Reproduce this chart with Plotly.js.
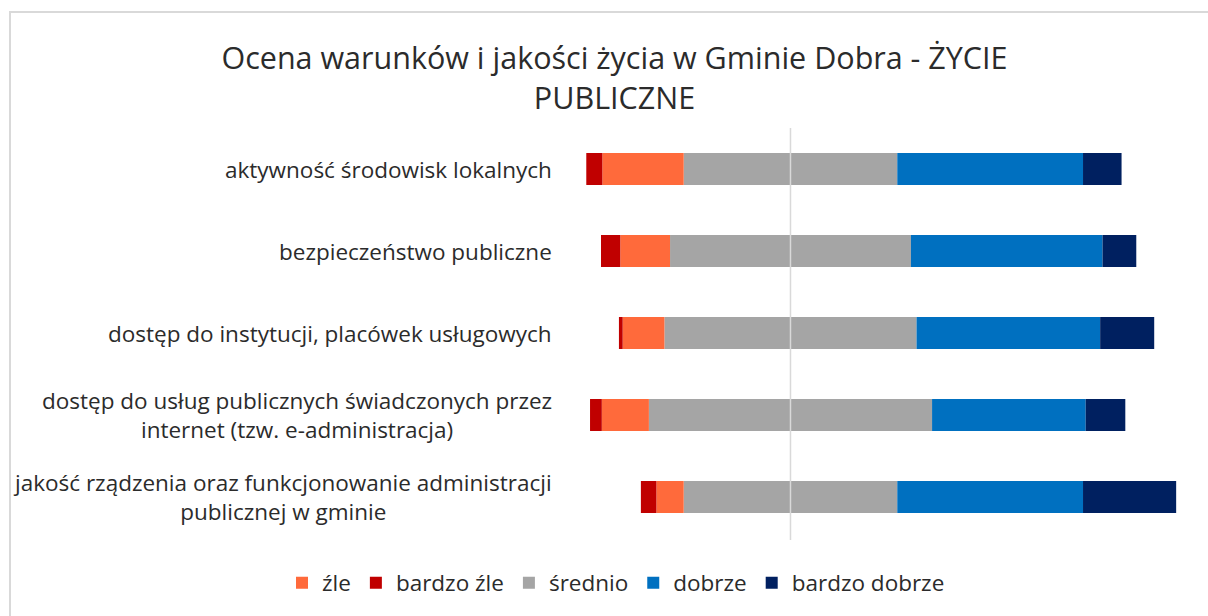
<!DOCTYPE html>
<html>
<head>
<meta charset="utf-8">
<script src="https://cdn.plot.ly/plotly-3.0.1.min.js"></script>
<style>
  html, body { margin: 0; padding: 0; background: #fff; overflow: hidden; }
  #chart { width: 1208px; height: 616px; }
  #frame { position: absolute; left: 9px; top: 11px; width: 1400px; height: 800px;
           border: 2px solid #d9d9d9; pointer-events: none; }
</style>
</head>
<body>
<div id="chart"></div>
<div id="frame"></div>
<script>
const categories = [
  'aktywność środowisk lokalnych',
  'bezpieczeństwo publiczne',
  'dostęp do instytucji, placówek usługowych',
  'dostęp do usług publicznych świadczonych przez<br>internet (tzw. e-administracja)',
  'jakość rządzenia oraz funkcjonowanie administracji<br>publicznej w gminie'
];
const bardzoZle = [3.0, 3.6, 0.7, 2.2, 2.9];
const zle = [15.2, 9.3, 7.8, 8.8, 5.1];
const srednio = [39.9, 45.0, 47.1, 52.9, 39.9];
const dobrze = [34.7, 35.8, 34.3, 28.7, 34.7];
const bardzoDobrze = [7.2, 6.3, 10.1, 7.4, 17.4];

const seriesNames = ['źle', 'bardzo źle', 'średnio', 'dobrze', 'bardzo dobrze'];
const colors = ['#FF6A3B', '#C00000', '#A5A5A5', '#0070C0', '#002060'];

const FONT = 'Open Sans, Noto Sans, sans-serif';
const TXT = '#2b2b2b';

function bar(name, x, color, rank, extra) {
  return Object.assign({
    type: 'bar', orientation: 'h', name: name, x: x, y: categories,
    marker: { color: color, line: { width: 0 } }, legendrank: rank,
    hoverinfo: 'name+x'
  }, extra || {});
}

const traces = [
  bar(seriesNames[2], srednio.map(v => -v / 2), colors[2], 3, { legendgroup: 's', showlegend: false }),
  bar(seriesNames[0], zle.map(v => -v), colors[0], 1),
  bar(seriesNames[1], bardzoZle.map(v => -v), colors[1], 2),
  bar(seriesNames[2], srednio.map(v => v / 2), colors[2], 3, { legendgroup: 's' }),
  bar(seriesNames[3], dobrze, colors[3], 4),
  bar(seriesNames[4], bardzoDobrze, colors[4], 5)
];

// plot area spans 10..1198 px; category labels end at ~551 px
const annotations = categories.map(c => ({
  xref: 'paper', yref: 'y', x: (554 - 10) / 1188, y: c, xanchor: 'right', yanchor: 'middle',
  text: c, showarrow: false, align: 'center',
  font: { family: FONT, size: 22.5, color: TXT }
}));

const layout = {
  width: 1208, height: 616,
  paper_bgcolor: '#ffffff', plot_bgcolor: '#ffffff',
  margin: { l: 10, r: 10, t: 128, b: 78 },
  barmode: 'relative', bargap: 0.61,
  title: {
    text: 'Ocena warunków i jakości życia w Gminie Dobra - ŻYCIE<br>PUBLICZNE',
    xref: 'container', yref: 'container', x: 614.5 / 1208, y: 1 - 69 / 616,
    xanchor: 'center', yanchor: 'middle',
    font: { family: FONT, size: 30.5, color: TXT }
  },
  xaxis: {
    range: [-145.81, 76.13], showgrid: false, zeroline: false,
    showticklabels: false, ticks: '', showline: false, fixedrange: true
  },
  yaxis: {
    type: 'category', categoryorder: 'array', categoryarray: categories,
    autorange: 'reversed', showticklabels: false, ticks: '',
    showgrid: false, zeroline: false, showline: false, fixedrange: true
  },
  shapes: [{
    type: 'line', xref: 'x', yref: 'paper', x0: 0, x1: 0, y0: -0.005, y1: 1,
    line: { color: '#d9d9d9', width: 1.5 }, layer: 'above'
  }],
  annotations: annotations,
  legend: {
    orientation: 'h', xref: 'container', yref: 'container',
    x: 616 / 1208, y: 1 - 583 / 616, xanchor: 'center', yanchor: 'middle',
    font: { family: FONT, size: 22.5, color: TXT },
    traceorder: 'normal', bgcolor: 'rgba(0,0,0,0)'
  },
  showlegend: true
};

Plotly.newPlot('chart', traces, layout, { displayModeBar: false, staticPlot: true });
</script>
</body>
</html>
